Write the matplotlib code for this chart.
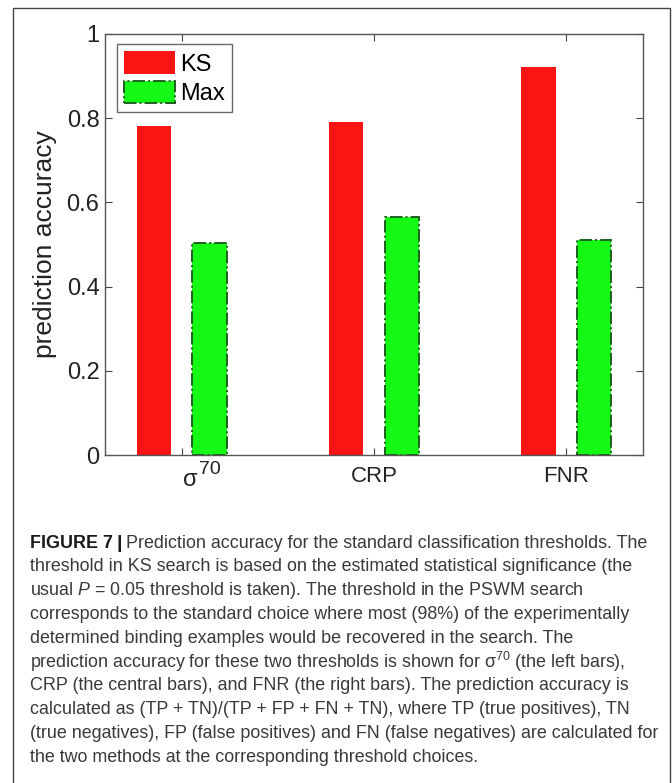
import matplotlib
matplotlib.use("Agg")
import matplotlib.pyplot as plt
from matplotlib.patches import Rectangle
import numpy as np

categories = ["σ", "CRP", "FNR"]
category_superscripts = ["70", "", ""]
ks_values = [0.782, 0.792, 0.922]
max_values = [0.503, 0.566, 0.511]
series_names = ["KS", "Max"]
ytick_vals = [0, 0.2, 0.4, 0.6, 0.8, 1.0]
ytick_labels = ["0", "0.2", "0.4", "0.6", "0.8", "1"]

caption_bold = "FIGURE 7"
caption_lines = [
    "Prediction accuracy for the standard classification thresholds. The",
    "threshold in KS search is based on the estimated statistical significance (the",
    r"usual $\mathit{P}$ = 0.05 threshold is taken). The threshold in the PSWM search",
    "corresponds to the standard choice where most (98%) of the experimentally",
    "determined binding examples would be recovered in the search. The",
    "prediction accuracy for these two thresholds is shown for σ$^{70}$ (the left bars),",
    "CRP (the central bars), and FNR (the right bars). The prediction accuracy is",
    "calculated as (TP + TN)/(TP + FP + FN + TN), where TP (true positives), TN",
    "(true negatives), FP (false positives) and FN (false negatives) are calculated for",
    "the two methods at the corresponding threshold choices.",
]

plt.rcParams['font.family'] = ['Liberation Sans', 'DejaVu Sans']
plt.rcParams['mathtext.fontset'] = 'custom'
plt.rcParams['mathtext.rm'] = 'Liberation Sans'
plt.rcParams['mathtext.it'] = 'Liberation Sans:italic'

W, H = 672, 783
fig = plt.figure(figsize=(W / 100, H / 100), dpi=100)

# outer frame
fig.patches.append(Rectangle((13 / W, -0.05), (670 - 13) / W, 1.05 - 8 / H,
                             transform=fig.transFigure, fill=False,
                             edgecolor='#444444', linewidth=1.0))

ax = fig.add_axes([105 / W, 1 - 455 / H, (643 - 105) / W, (455 - 34) / H])
x = np.arange(1, len(categories) + 1)
off = 0.145
bw = 0.18
ax.bar(x - off, ks_values, bw, color='#fa1414', edgecolor='none', label=series_names[0])
ax.bar(x + off, max_values, bw, color='#14fa14', edgecolor='#1f5f1f',
       linestyle='-.', linewidth=1.4, label=series_names[1])

ax.set_xlim(0.6, 3.4)
ax.set_ylim(0, 1)
ax.set_xticks(x)
ax.set_xticklabels([c if not s else "" for c, s in zip(categories, category_superscripts)],
                   fontsize=16, color='#222222')
ax.set_yticks(ytick_vals)
ax.set_yticklabels(ytick_labels, fontsize=17, color='#222222')
ax.tick_params(direction='in', length=5, width=0.8, top=True, right=True,
               colors='#444444', labelcolor='#222222')
ax.tick_params(axis='x', pad=8)
ax.tick_params(axis='y', pad=4)
for s in ax.spines.values():
    s.set_color('#555555')
    s.set_linewidth(1.0)

# labels with large superscripts (MATLAB style)
for xi, c, sup in zip(x, categories, category_superscripts):
    if sup:
        ax.annotate(c, xy=(xi, 0), xycoords=('data', 'axes fraction'),
                    xytext=(1, -22.5), textcoords='offset points',
                    ha='left', va='baseline', fontsize=17, color='#222222',
                    annotation_clip=False)
        ax.annotate(sup, xy=(xi, 0), xycoords=('data', 'axes fraction'),
                    xytext=(12, -14), textcoords='offset points',
                    ha='left', va='baseline', fontsize=14, color='#222222',
                    annotation_clip=False)

ax.set_ylabel("prediction accuracy", fontsize=19, color='#222222')
ax.yaxis.set_label_coords(-0.089, 0.5)

leg = ax.legend(loc='upper left', bbox_to_anchor=(0.022, 0.976), borderaxespad=0,
                fontsize=17, fancybox=False, frameon=True, handlelength=2.15,
                handleheight=1.1, handletextpad=0.25, borderpad=0.3,
                labelspacing=0.22)
leg.get_frame().set_edgecolor('#444444')
leg.get_frame().set_linewidth(1.0)

# caption
fs = 12.9
color = '#3a3a3a'
x0 = 30 / W
y_first = 543
dy = 23.8
renderer = fig.canvas.get_renderer()
t = fig.text(x0, 1 - y_first / H, caption_bold, fontsize=fs, fontweight='bold',
             color='#1a1a1a', va='center', ha='left')
bb = t.get_window_extent(renderer=renderer)
tb = fig.text(bb.x1 / W + 4 / W, 1 - y_first / H, "|", fontsize=fs + 1, fontweight='bold',
              color='#1a1a1a', va='center', ha='left')
bb2 = tb.get_window_extent(renderer=renderer)
fig.text(bb2.x1 / W + 4 / W, 1 - y_first / H, caption_lines[0], fontsize=fs, color=color,
         va='center', ha='left')
for i, line in enumerate(caption_lines[1:], start=1):
    fig.text(x0, 1 - (y_first + i * dy) / H, line, fontsize=fs, color=color,
             va='center', ha='left')

fig.savefig("out.png", dpi=100)
